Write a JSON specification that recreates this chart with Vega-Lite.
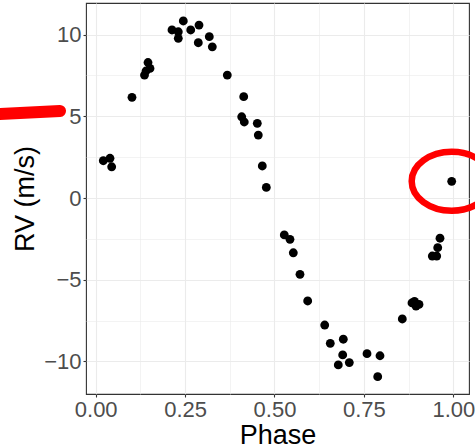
{
  "$schema": "https://vega.github.io/schema/vega-lite/v6.json",
  "autosize": "none",
  "width": 383,
  "height": 391,
  "padding": {"left": 86, "top": 3, "right": 6, "bottom": 54},
  "background": "white",
  "config": {
    "view": {"stroke": "#333333", "strokeWidth": 1.1},
    "font": "Liberation Sans"
  },
  "datasets": {
    "rv": [
      {"phase": 0.0213, "rv": 2.28},
      {"phase": 0.040, "rv": 2.43},
      {"phase": 0.0447, "rv": 1.91},
      {"phase": 0.1015, "rv": 6.16},
      {"phase": 0.1463, "rv": 8.29},
      {"phase": 0.1518, "rv": 7.93},
      {"phase": 0.1407, "rv": 7.77},
      {"phase": 0.1365, "rv": 7.52},
      {"phase": 0.2134, "rv": 10.28},
      {"phase": 0.231, "rv": 10.17},
      {"phase": 0.231, "rv": 9.77},
      {"phase": 0.245, "rv": 10.83},
      {"phase": 0.2657, "rv": 10.28},
      {"phase": 0.2889, "rv": 10.58},
      {"phase": 0.2869, "rv": 9.50},
      {"phase": 0.3177, "rv": 9.87},
      {"phase": 0.3261, "rv": 9.25},
      {"phase": 0.368, "rv": 7.52},
      {"phase": 0.4139, "rv": 6.20},
      {"phase": 0.4083, "rv": 4.97},
      {"phase": 0.4155, "rv": 4.65},
      {"phase": 0.4519, "rv": 4.57},
      {"phase": 0.4547, "rv": 3.85},
      {"phase": 0.4659, "rv": 1.96},
      {"phase": 0.4771, "rv": 0.65},
      {"phase": 0.5274, "rv": -2.26},
      {"phase": 0.5433, "rv": -2.53},
      {"phase": 0.5526, "rv": -3.35},
      {"phase": 0.5713, "rv": -4.67},
      {"phase": 0.5928, "rv": -6.30},
      {"phase": 0.6404, "rv": -7.77},
      {"phase": 0.656, "rv": -8.89},
      {"phase": 0.6924, "rv": -8.64},
      {"phase": 0.6907, "rv": -9.60},
      {"phase": 0.6784, "rv": -10.21},
      {"phase": 0.7092, "rv": -10.07},
      {"phase": 0.7587, "rv": -9.52},
      {"phase": 0.795, "rv": -9.65},
      {"phase": 0.7886, "rv": -10.93},
      {"phase": 0.8574, "rv": -7.40},
      {"phase": 0.8845, "rv": -6.42},
      {"phase": 0.8915, "rv": -6.33},
      {"phase": 0.8957, "rv": -6.61},
      {"phase": 0.9041, "rv": -6.51},
      {"phase": 0.9628, "rv": -2.46},
      {"phase": 0.9564, "rv": -3.04},
      {"phase": 0.9413, "rv": -3.55},
      {"phase": 0.9536, "rv": -3.55},
      {"phase": 0.9955, "rv": 1.02}
    ],
    "stroke": [
      {"phase": -0.296, "rv": 5.10},
      {"phase": -0.0998, "rv": 5.33}
    ],
    "ring": [
      {"phase": 0.9955, "rv": 1.02}
    ]
  },
  "encoding": {
    "x": {
      "field": "phase",
      "type": "quantitative",
      "scale": {"domain": [-0.0271, 1.0439], "nice": false, "zero": false},
      "axis": {
        "title": "Phase",
        "titleFontSize": 27,
        "titleFontWeight": "normal",
        "titleColor": "#000000",
        "titlePadding": 2,
        "values": [0, 0.125, 0.25, 0.375, 0.5, 0.625, 0.75, 0.875, 1],
        "labelExpr": "(round(datum.value * 1000) % 250 == 0) ? format(datum.value, '.2f') : ''",
        "labelFontSize": 22,
        "labelColor": "#4D4D4D",
        "labelPadding": 2,
        "labelFlush": false,
        "domain": false,
        "tickSize": 3,
        "tickColor": "#333333",
        "tickWidth": 1.1,
        "tickOpacity": {"condition": {"test": "round(datum.value * 1000) % 250 != 0", "value": 0}, "value": 1},
        "grid": true,
        "gridColor": "#EBEBEB",
        "gridWidth": {"condition": {"test": "round(datum.value * 1000) % 250 != 0", "value": 0.6}, "value": 1.1}
      }
    },
    "y": {
      "field": "rv",
      "type": "quantitative",
      "scale": {"domain": [-11.99, 11.93], "nice": false, "zero": false},
      "axis": {
        "title": "RV (m/s)",
        "titleFontSize": 27,
        "titleFontWeight": "normal",
        "titleColor": "#000000",
        "titlePadding": 4,
        "values": [-10, -7.5, -5, -2.5, 0, 2.5, 5, 7.5, 10],
        "labelExpr": "(datum.value % 5 == 0) ? replace(format(datum.value, 'd'), '-', '\u2212') : ''",
        "labelFontSize": 22,
        "labelColor": "#4D4D4D",
        "labelPadding": 2,
        "labelFlush": false,
        "domain": false,
        "tickSize": 3,
        "tickColor": "#333333",
        "tickWidth": 1.1,
        "tickOpacity": {"condition": {"test": "datum.value % 5 != 0", "value": 0}, "value": 1},
        "grid": true,
        "gridColor": "#EBEBEB",
        "gridWidth": {"condition": {"test": "datum.value % 5 != 0", "value": 0.6}, "value": 1.1}
      }
    }
  },
  "layer": [
    {
      "data": {"name": "rv"},
      "mark": {"type": "point", "shape": "circle", "filled": true, "color": "#000000", "size": 78, "opacity": 1}
    },
    {
      "data": {"name": "stroke"},
      "mark": {"type": "line", "color": "#FF0000", "strokeWidth": 12, "strokeCap": "round", "clip": false}
    },
    {
      "data": {"name": "ring"},
      "mark": {
        "type": "point",
        "filled": false,
        "stroke": "#FF0000",
        "strokeWidth": 6.5,
        "opacity": 1,
        "size": 3481,
        "clip": false,
        "shape": "M 1.356 0 C 1.356 0.552 0.749 1 0 1 C -0.749 1 -1.356 0.552 -1.356 0 C -1.356 -0.552 -0.749 -1 0 -1 C 0.749 -1 1.356 -0.552 1.356 0 Z"
      }
    }
  ]
}
